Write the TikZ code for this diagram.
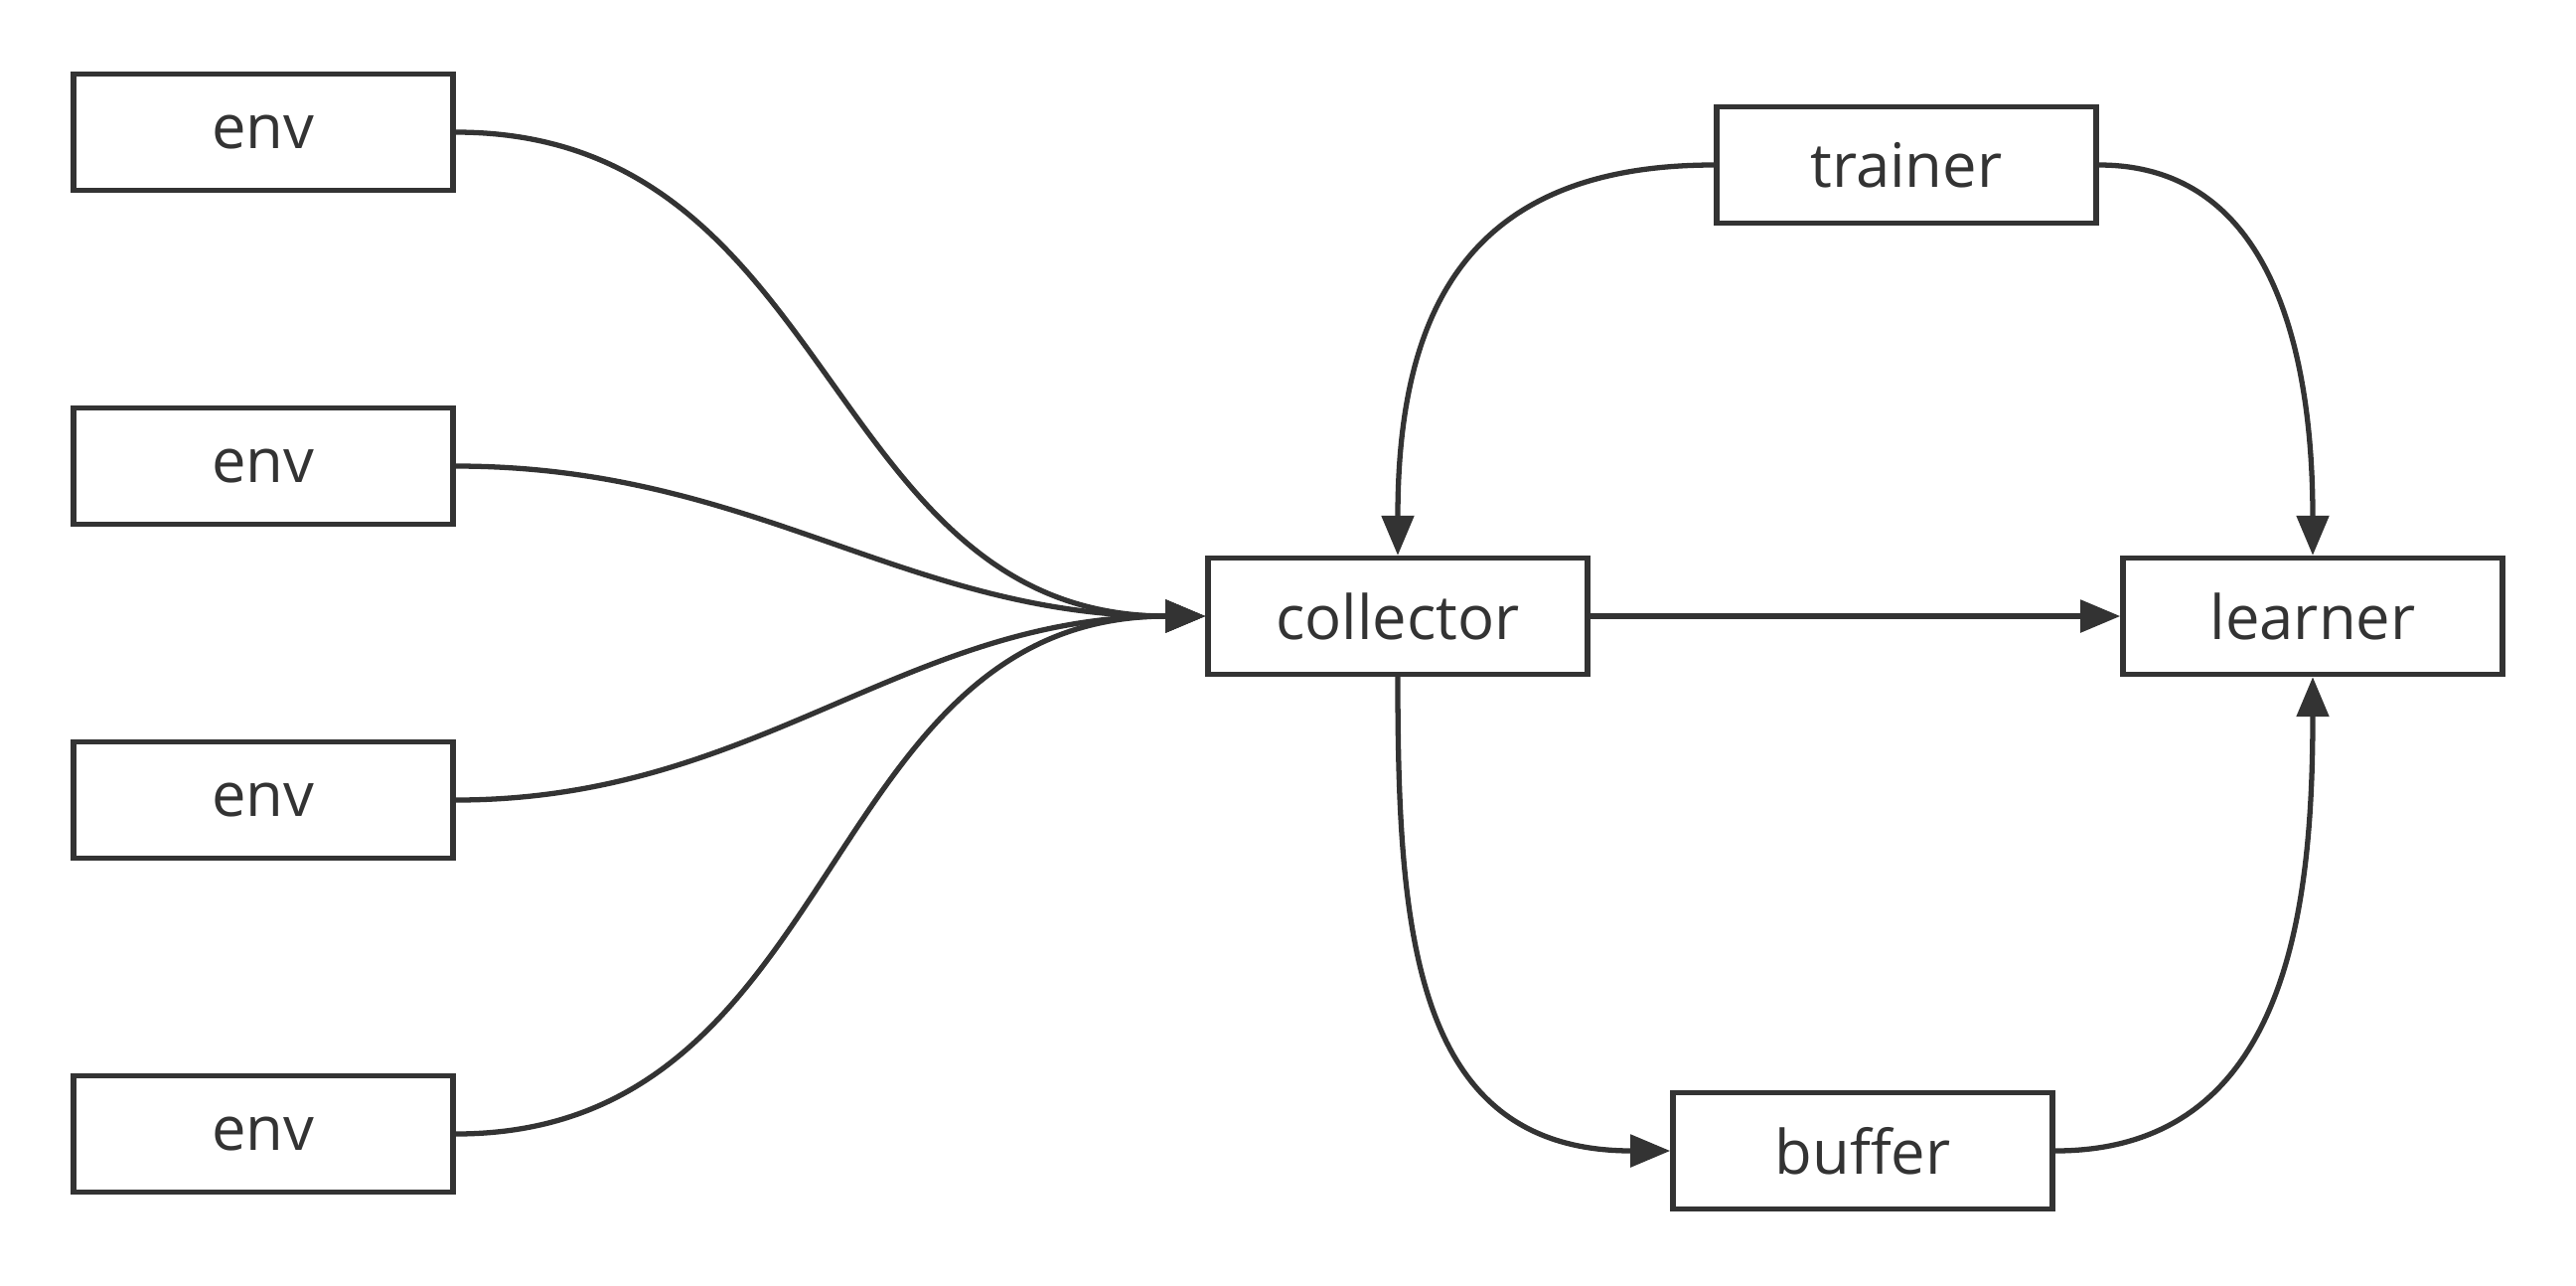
\documentclass[tikz,border=0pt]{standalone}
\usepackage{fontspec}
\setmainfont{Open Sans}
\usepackage{tikz}
\usetikzlibrary{arrows.meta}
\definecolor{ink}{HTML}{333333}
\tikzset{box/.style = {draw = ink, line width = 1.5pt, text = ink,
                       minimum width = 3.82cm, minimum height = 1.17cm,
                       inner sep = 0, font = \fontsize{17.5pt}{20pt}\selectfont}}
\tikzset{flow/.style = {draw = ink, line width = 1.5pt,
                        -{Triangle[length = 4mm, width = 3.2mm]}}}

\begin{document}
\begin{tikzpicture}[x = 0.01cm, y = -0.01cm]
    \useasboundingbox (0, 0) rectangle (2593, 1293);

    \node [box] (env1) at (265, 133) {env};
    \node [box] (env2) at (265, 469) {env};
    \node [box] (env3) at (265, 805) {env};
    \node [box] (env4) at (265, 1141) {env};

    \node [box] (collector) at (1407, 620) {collector};
    \node [box] (trainer) at (1919, 166) {trainer};
    \node [box] (learner) at (2328, 620) {learner};
    \node [box] (buffer) at (1875, 1158) {buffer};

    \draw [flow] (env1.east) to [out = 0, in = 180, looseness = 1.1] (collector.west);
    \draw [flow] (env2.east) to [out = 0, in = 180] (collector.west);
    \draw [flow] (env3.east) to [out = 0, in = 180] (collector.west);
    \draw [flow] (env4.east) to [out = 0, in = 180, looseness = 1.1] (collector.west);

    \draw [flow] (collector.east) -- (learner.west);

    \draw [flow] (trainer.west) to [out = 180, in = 90, looseness = 1.25] (collector.north);
    \draw [flow] (trainer.east) to [out = 0, in = 90, looseness = 1.05] (learner.north);

    \draw [flow] (collector.south) to [out = -90, in = 180, looseness = 1.2] (buffer.west);
    \draw [flow] (buffer.east) to [out = 0, in = -90, looseness = 1.1] (learner.south);
\end{tikzpicture}
\end{document}
